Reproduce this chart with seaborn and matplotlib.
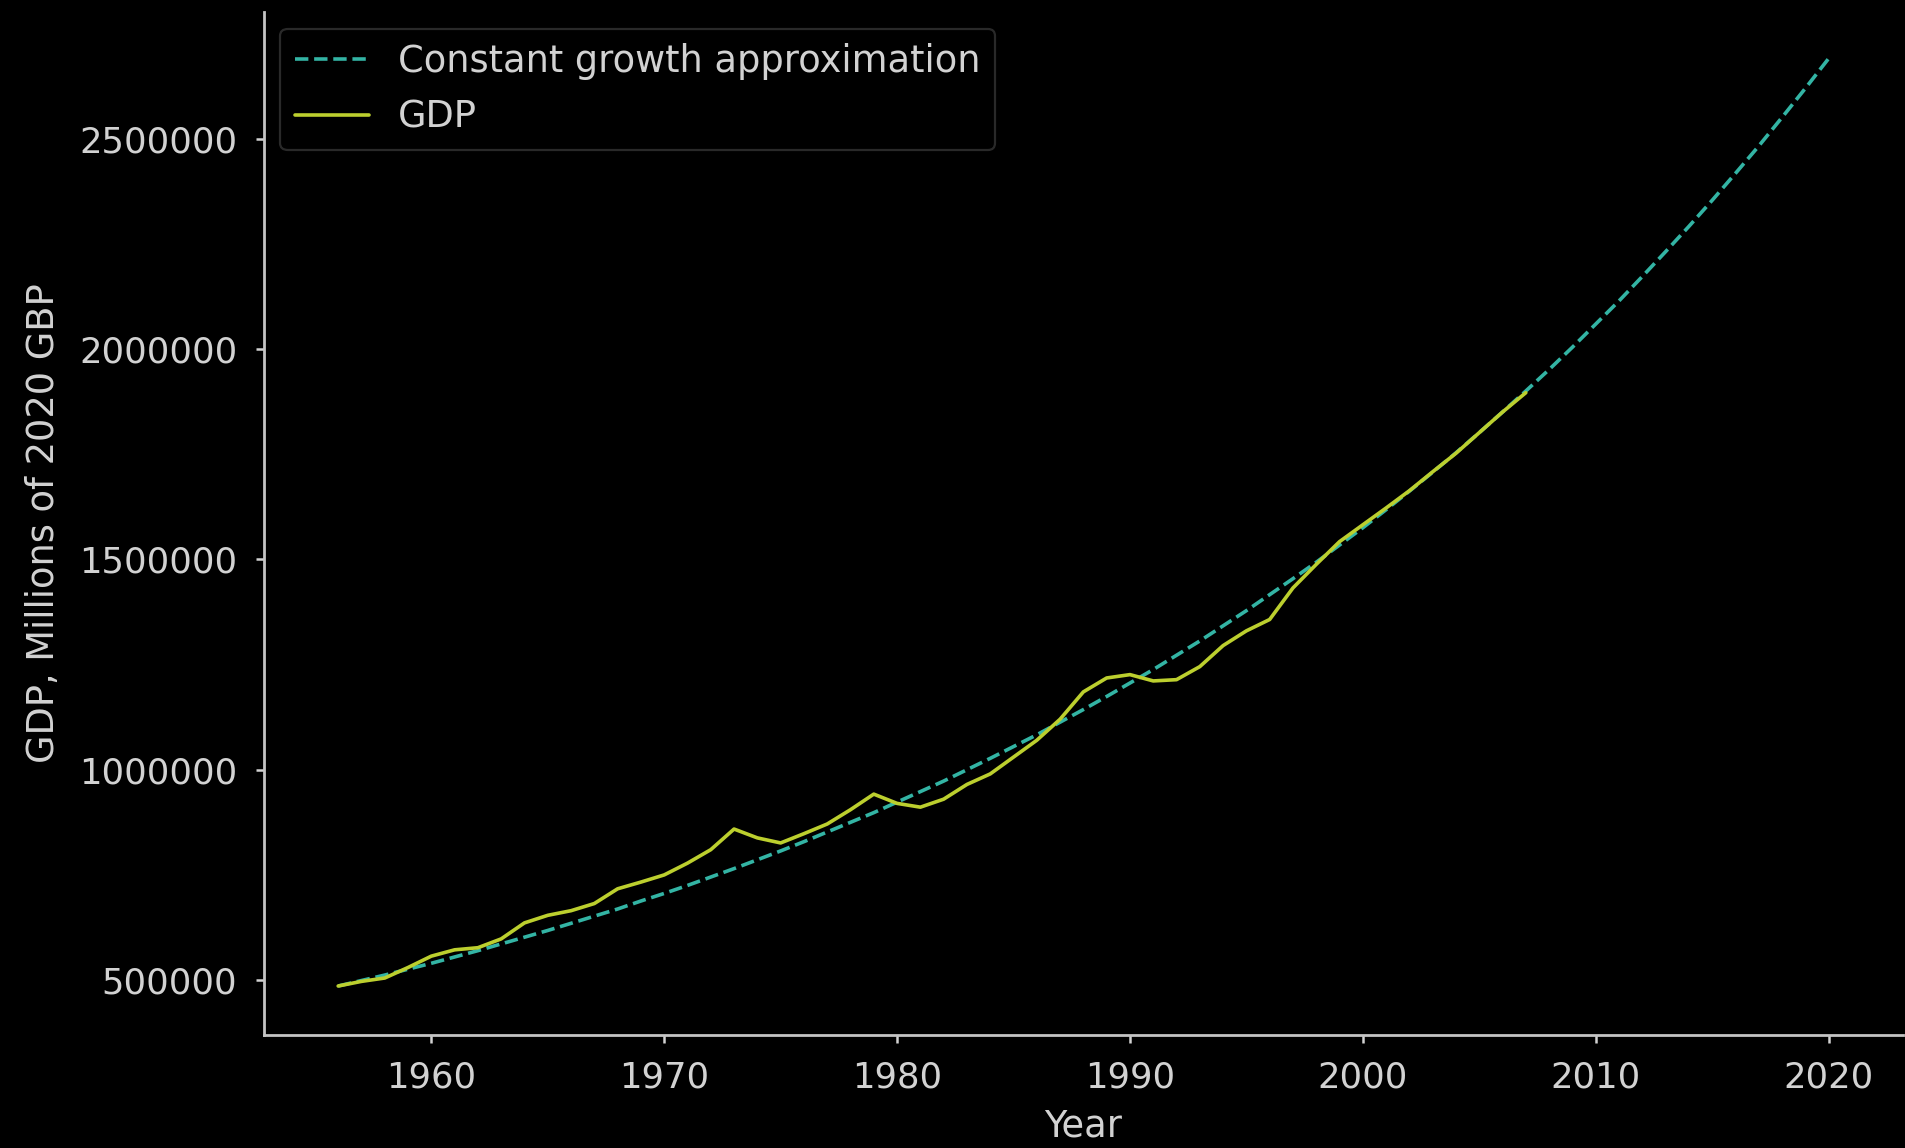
import matplotlib
matplotlib.use("Agg")
import matplotlib.pyplot as plt
import pandas as pd
import seaborn as sns

# UK GDP, millions of 2020 GBP
gdp_years = list(range(1956, 2008))
gdp_values = [
    486000, 497000, 505000, 530000, 557000, 572000, 577000, 598000, 636000, 654000,
    665000, 682000, 717000, 733000, 750000, 778000, 810000, 859000, 838000, 826000,
    848000, 871000, 905000, 942000, 920000, 911000, 930000, 965000, 990000, 1030000,
    1070000, 1120000, 1185000, 1218000, 1226000, 1211000, 1214000, 1245000, 1295000, 1330000,
    1357000, 1432000, 1488000, 1542000, 1582000, 1622000, 1663000, 1708000, 1752000, 1801000,
    1850000, 1896000,
]

# Constant growth approximation, 1956-2020
trend_years = list(range(1956, 2021))
trend_values = [
    486000, 499000, 512000, 526000, 540000, 555000, 570000, 586000, 602000, 618000,
    635000, 652000, 669000, 688000, 706000, 725000, 745000, 765000, 786000, 807000,
    829000, 852000, 875000, 898000, 923000, 948000, 973000, 1000000, 1027000, 1055000,
    1083000, 1113000, 1143000, 1174000, 1206000, 1238000, 1272000, 1306000, 1342000, 1378000,
    1416000, 1454000, 1493000, 1534000, 1575000, 1618000, 1662000, 1707000, 1753000, 1801000,
    1850000, 1900000, 1951000, 2004000, 2059000, 2114000, 2172000, 2231000, 2291000, 2353000,
    2417000, 2482000, 2550000, 2619000, 2690000,
]

y_ticks = [500000, 1000000, 1500000, 2000000, 2500000]
x_ticks = [1960, 1970, 1980, 1990, 2000, 2010, 2020]

trend_df = pd.DataFrame({"Year": trend_years, "GDP": trend_values})
gdp_df = pd.DataFrame({"Year": gdp_years, "GDP": gdp_values})

sns.set_theme(style="ticks")
plt.style.use("dark_background")
plt.rcParams["font.family"] = ["DejaVu Sans"]

text_color = "#d2d2d2"
spine_color = "#c4c4c4"
trend_color = "#33b4a4"
gdp_color = "#bccf2e"

fig = plt.figure(figsize=(19.05, 11.48), dpi=100)
fig.patch.set_facecolor("black")
ax = fig.add_axes([0.1384, 0.0984, 0.8606, 0.8911])
ax.set_facecolor("black")

sns.lineplot(data=trend_df, x="Year", y="GDP", ax=ax, color=trend_color,
             linestyle="--", linewidth=2.6, label="Constant growth approximation")
sns.lineplot(data=gdp_df, x="Year", y="GDP", ax=ax, color=gdp_color,
             linewidth=2.6, label="GDP")

ax.set_xticks(x_ticks)
ax.set_yticks(y_ticks)
ax.ticklabel_format(style="plain", axis="y", useOffset=False)
ax.set_xlim(1952.8, 2023.2)
ax.set_ylim(369500, 2800500)

sns.despine(ax=ax)
for side in ("left", "bottom"):
    ax.spines[side].set_color(spine_color)
    ax.spines[side].set_linewidth(2.0)

ax.tick_params(axis="both", colors=text_color, labelsize=25.5, length=6, width=1.8)
ax.tick_params(axis="x", pad=12)
ax.tick_params(axis="y", pad=13)

ax.set_xlabel("Year", fontsize=26.5, color=text_color, labelpad=10)
ax.set_ylabel("GDP, Millions of 2020 GBP", fontsize=26.5, color=text_color, labelpad=12)

leg = ax.legend(loc="upper left", fontsize=26.5, frameon=True, facecolor="black",
                edgecolor="#2e2e2e", framealpha=0.9, borderaxespad=0.45)
leg.get_frame().set_linewidth(1.6)
for t in leg.get_texts():
    t.set_color(text_color)

fig.savefig("out.png", dpi=100, facecolor="black")
